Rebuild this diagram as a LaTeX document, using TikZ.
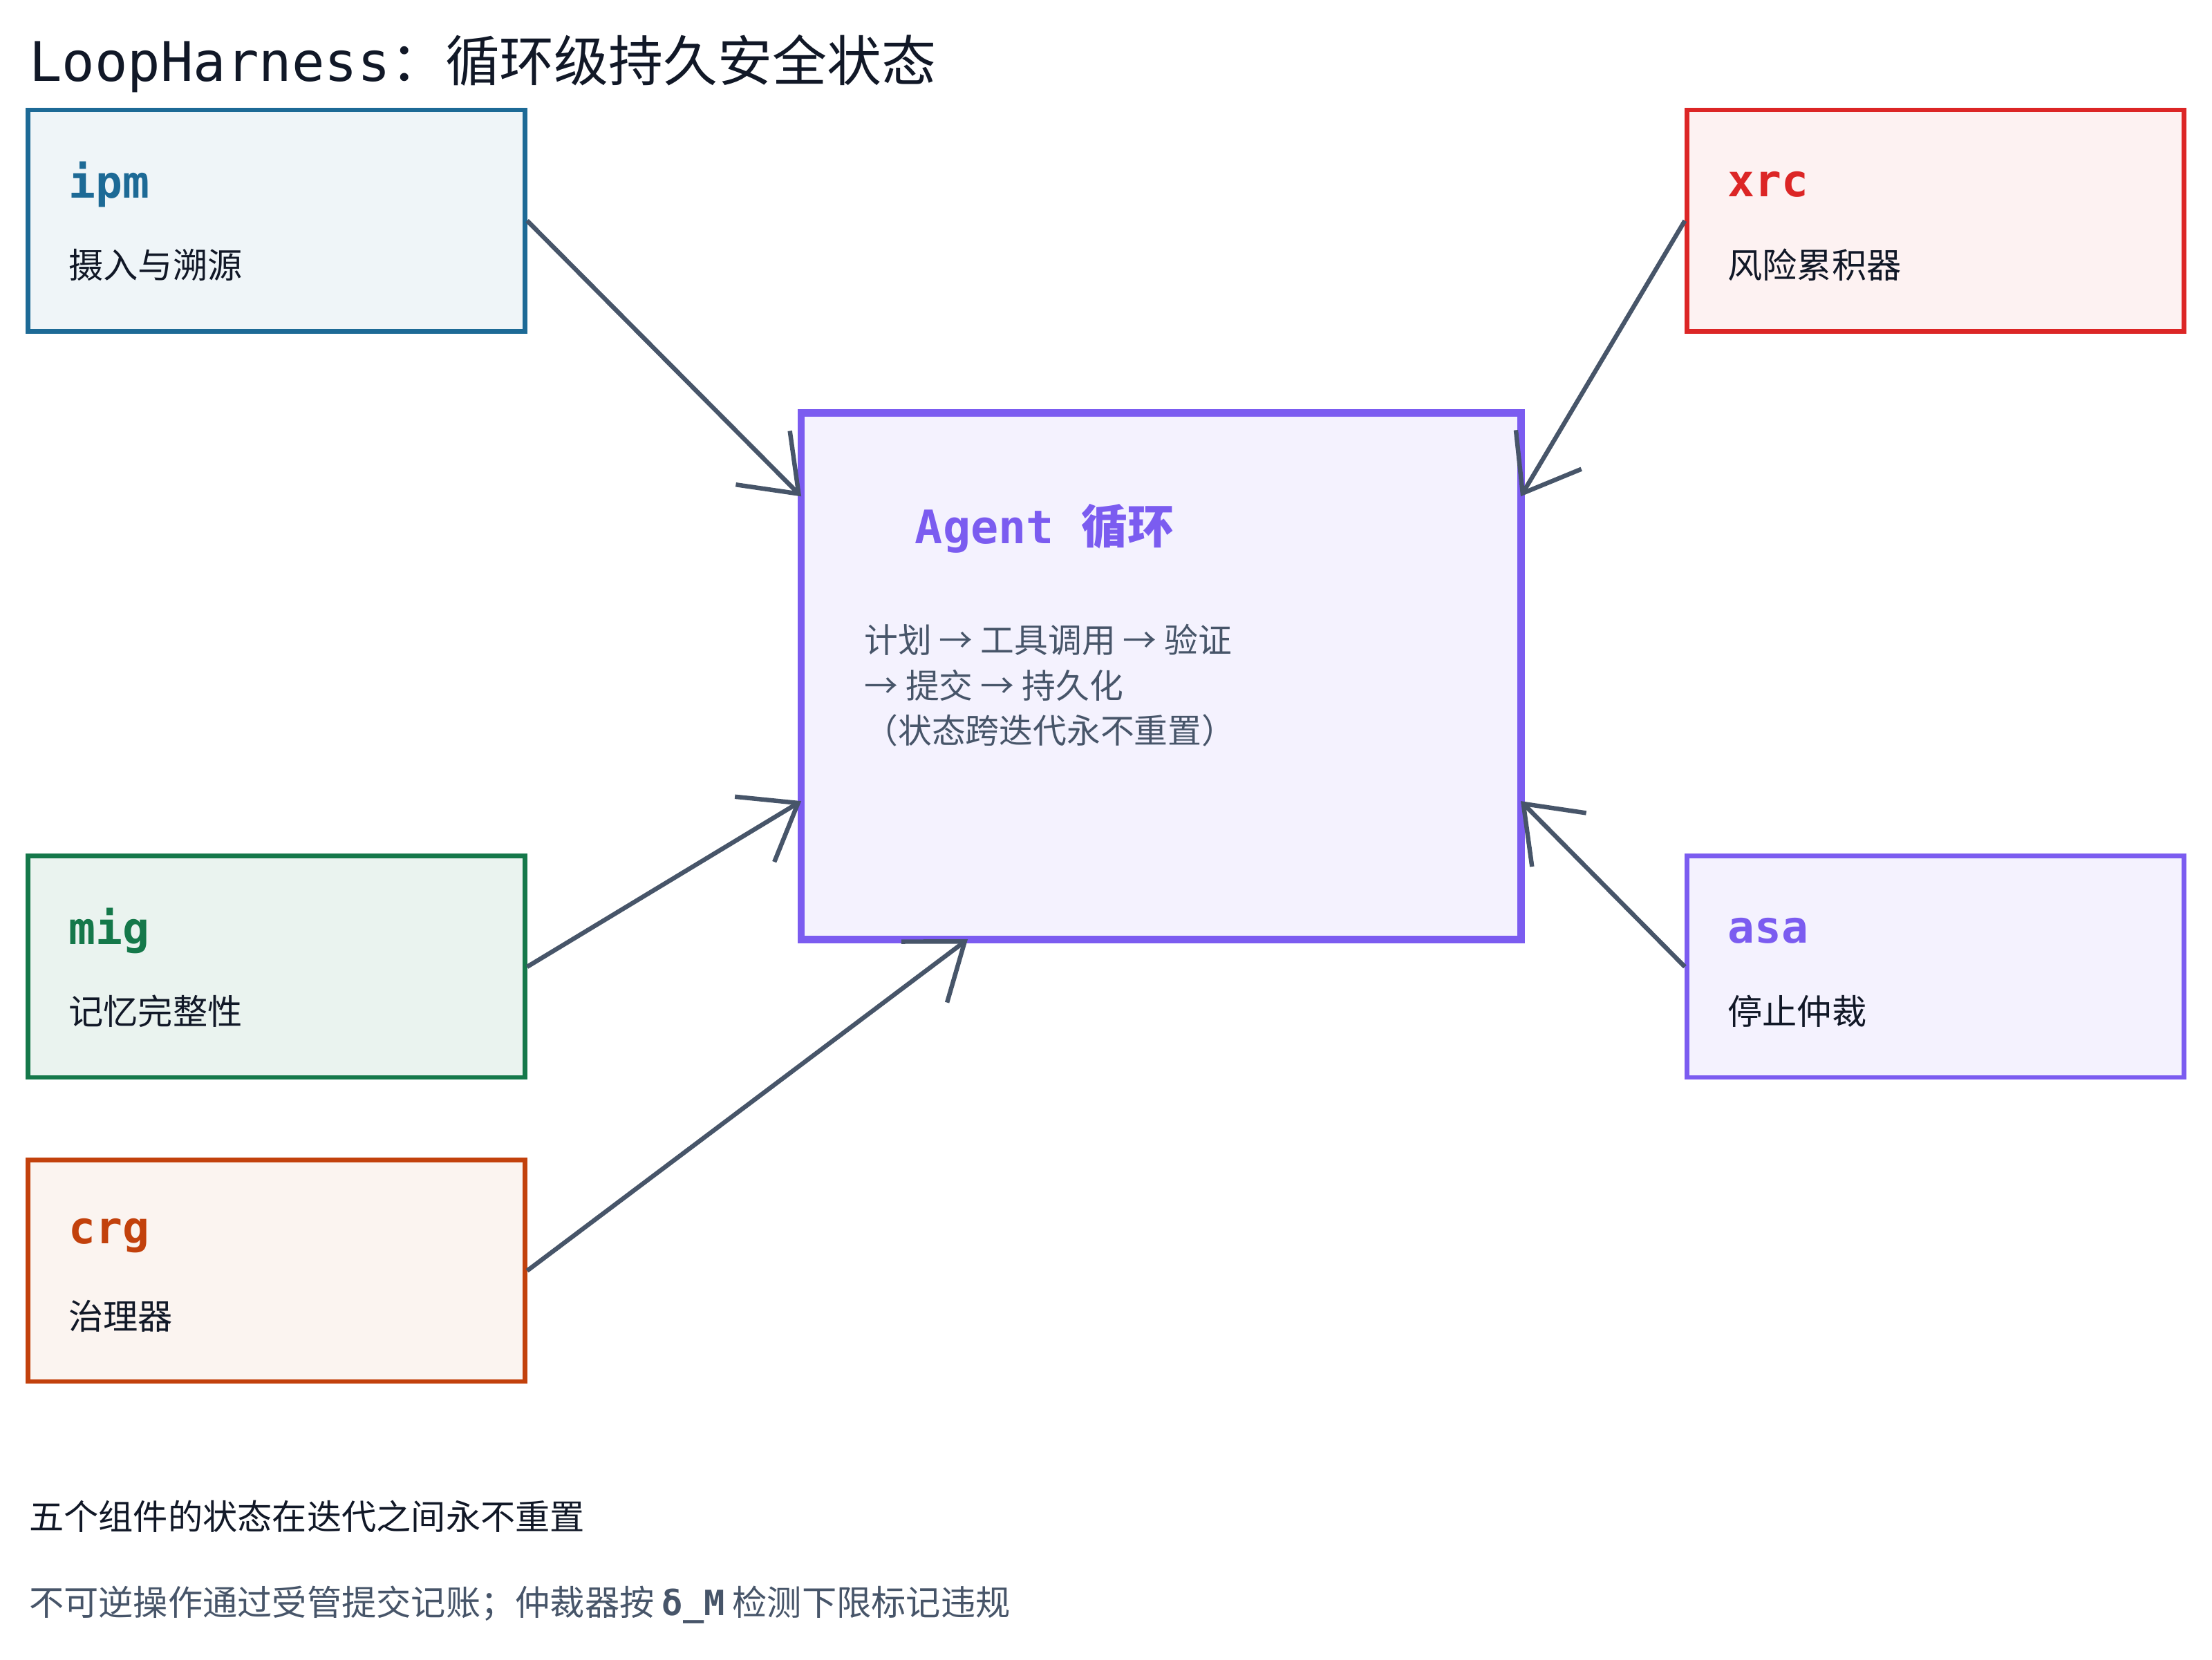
\documentclass[tikz,border=0pt]{standalone}
\usepackage{fontspec}
\setmainfont{Noto Sans CJK SC}
\setmonofont{DejaVu Sans Mono}
\usetikzlibrary{arrows.meta,positioning}
\definecolor{slate}{HTML}{475569}
\definecolor{ink}{HTML}{111827}
\definecolor{ipmc}{HTML}{1D6A96}
\definecolor{xrcc}{HTML}{DC2626}
\definecolor{migc}{HTML}{15784A}
\definecolor{crgc}{HTML}{C2410C}
\definecolor{asac}{HTML}{7B5CF0}
\begin{document}
\begin{tikzpicture}[x=0.01cm,y=-0.01cm,
    box/.style={draw, line width=0.9pt, minimum width=3.52cm, minimum height=1.57cm, inner sep=0pt},
    tag/.style={anchor=west, font=\ttfamily\bfseries\fontsize{9}{11}\selectfont, inner sep=0pt},
    sub/.style={anchor=west, text=ink, font=\fontsize{7}{9}\selectfont, inner sep=0pt},
    conn/.style={draw=slate, line width=0.9pt, -{Straight Barb[length=3.6mm,width=5.4mm,line width=0.9pt]}}
]
    \useasboundingbox (0,0) rectangle (1568,1177);

    % Title
    \node[anchor=west, text=ink, inner sep=0pt] (title) at (20,45)
        {\fontsize{11}{13}\selectfont\ttfamily LoopHarness\rmfamily ：循环级持久安全状态};

    % Components
    \node[box, draw=ipmc, fill=ipmc!7] (ipm) at (196,156.5) {};
    \node[box, draw=xrcc, fill=xrcc!6] (xrc) at (1372,156.5) {};
    \node[box, draw=migc, fill=migc!9] (mig) at (196,685.5) {};
    \node[box, draw=crgc, fill=crgc!6] (crg) at (196,901) {};
    \node[box, draw=asac, fill=asac!8] (asa) at (1372,685.5) {};

    \node[tag, text=ipmc] (ipm-t) at (48,131) {ipm};
    \node[sub] (ipm-s) at (48,188) {摄入与溯源};
    \node[tag, text=xrcc] (xrc-t) at (1224,131) {xrc};
    \node[sub] (xrc-s) at (1224,188) {风险累积器};
    \node[tag, text=migc] (mig-t) at (48,660) {mig};
    \node[sub] (mig-s) at (48,717) {记忆完整性};
    \node[tag, text=crgc] (crg-t) at (48,876) {crg};
    \node[sub] (crg-s) at (48,933) {治理器};
    \node[tag, text=asac] (asa-t) at (1224,660) {asa};
    \node[sub] (asa-s) at (1224,717) {停止仲裁};

    % Agent loop
    \node[draw=asac, fill=asac!8, line width=1.5pt, minimum width=5.1cm, minimum height=3.73cm,
        inner sep=0pt] (agent) at (823,479.5) {};
    \node[anchor=west, text=asac, inner sep=0pt, font=\fontsize{9.3}{11}\selectfont] (agent-t) at (648,375)
        {\ttfamily\bfseries Agent \rmfamily 循环};
    \node[anchor=north west, align=left, text=slate, inner sep=0pt,
        font=\fontsize{6.8}{9.1}\selectfont] (agent-s) at (612,442)
        {计划 → 工具调用 → 验证\\→ 提交 → 持久化\\（状态跨迭代永不重置）};

    % Connectors
    \coordinate (in-ipm) at (568,352);
    \coordinate (in-xrc) at (1078,352);
    \coordinate (in-mig) at (568,568);
    \coordinate (in-crg) at (686,666);
    \coordinate (in-asa) at (1078,568);
    \draw[conn] (ipm.east) -- (in-ipm);
    \draw[conn] (xrc.west) -- (in-xrc);
    \draw[conn] (mig.east) -- (in-mig);
    \draw[conn] (crg.east) -- (in-crg);
    \draw[conn] (asa.west) -- (in-asa);

    % Notes
    \node[sub] (note1) at (20,1075) {五个组件的状态在迭代之间永不重置};
    \node[sub, text=slate] (note2) at (20,1138)
        {不可逆操作通过受管提交记账；仲裁器按 {\ttfamily\bfseries δ\_M} 检测下限标记违规};
\end{tikzpicture}
\end{document}
